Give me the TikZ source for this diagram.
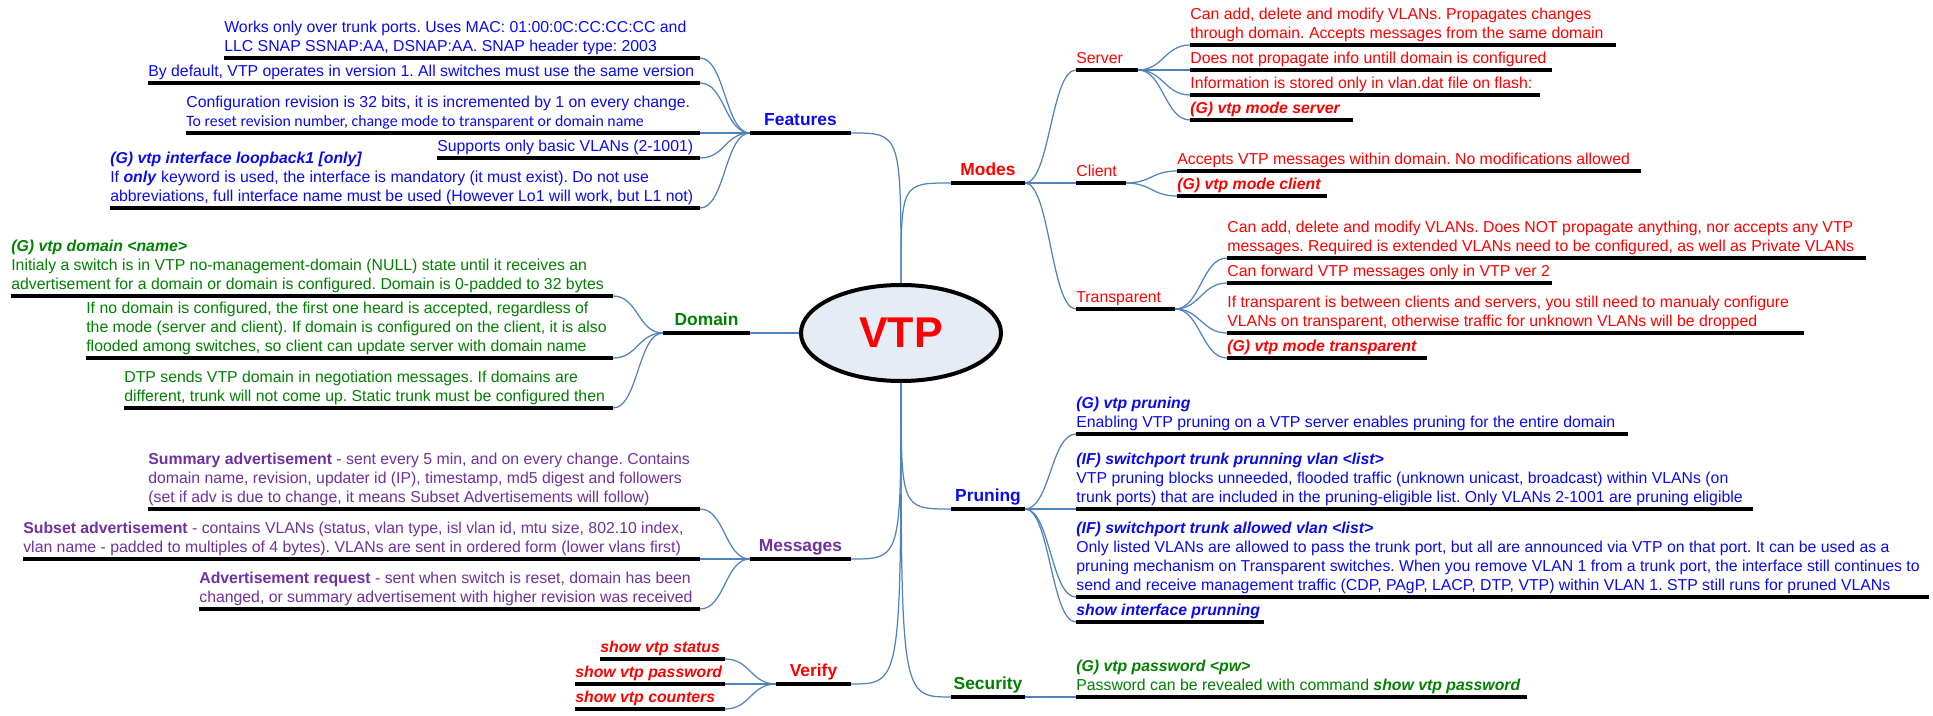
\documentclass[tikz,border=0pt]{standalone}
\usepackage{fontspec}
\setmainfont{Liberation Sans}
\newfontfamily\calfont{Carlito}
\usetikzlibrary{shapes.geometric}
\definecolor{vtpred}{RGB}{255,0,0}
\definecolor{vtpblue}{RGB}{10,10,240}
\definecolor{vtpgreen}{RGB}{0,128,0}
\definecolor{vtppurple}{RGB}{112,48,160}
\definecolor{linkblue}{RGB}{79,129,189}
\definecolor{ovalfill}{RGB}{230,236,246}
\newcommand{\leaffont}{\fontsize{9}{10.8}\selectfont\frenchspacing}
\newcommand{\topicfont}{\fontsize{9.9}{12}\selectfont\bfseries}
\newcommand{\vtpcmd}[1]{\textbf{\textit{#1}}}
\newcommand{\dstrut}{\vrule width 0pt height 0pt depth 0.7mm}

\begin{document}
\begin{tikzpicture}[x=0.2mm, y=0.2mm,
    bar/.style={fill=black, minimum width=#1, minimum height=0.75mm, inner sep=0pt, outer sep=0pt},
    lbl/.style={anchor=south west, align=left, inner xsep=0pt, inner ysep=0.22mm, font=\leaffont, execute at end node=\dstrut},
    tlbl/.style={anchor=south, inner xsep=0pt, inner ysep=1.12mm, text depth=0pt, font=\topicfont},
    link/.style={draw=linkblue, line width=0.7pt},
    lfan/.style={out=180, in=0, distance=5mm},
    rfan/.style={out=0, in=180, distance=5mm}]
    \useasboundingbox (0,0) rectangle (1933,715);

    \node[ellipse, draw=black, line width=0.8mm, fill=ovalfill, minimum width=40mm, minimum height=19.2mm, inner sep=0pt,
        text=vtpred, font=\fontsize{24.5}{29}\selectfont\bfseries] (vtp) at (901,382) {VTP};

    \node[bar=20.2mm, anchor=west, label={[tlbl, text=vtpblue]north:Features}] (features) at (750,582) {};
    \node[bar=14.8mm, anchor=west, label={[tlbl, text=vtpred]north:Modes}] (modes) at (951,532) {};
    \node[bar=17.4mm, anchor=west, label={[tlbl, text=vtpgreen]north:Domain}] (domain) at (663,382) {};
    \node[bar=20.2mm, anchor=west, label={[tlbl, text=vtppurple]north:Messages}] (messages) at (750,156) {};
    \node[bar=15mm, anchor=west, label={[tlbl, text=vtpred]north:Verify}] (verify) at (776,31) {};
    \node[bar=14.8mm, anchor=west, label={[tlbl, text=vtpblue]north:Pruning}] (pruning) at (951,206) {};
    \node[bar=14.8mm, anchor=west, label={[tlbl, text=vtpgreen]north:Security}] (security) at (951,18) {};

    \node[bar=95.2mm, anchor=east, label={[lbl, text=vtpblue]north west:{Works only over trunk ports. Uses MAC: 01:00:0C:CC:CC:CC and\\LLC SNAP SSNAP:AA, DSNAP:AA. SNAP header type: 2003}}] (f1) at (700,657) {};
    \node[bar=110.4mm, anchor=east, label={[lbl, text=vtpblue]north west:{By default, VTP operates in version 1. All switches must use the same version}}] (f2) at (700,632) {};
    \node[bar=102.8mm, anchor=east, label={[lbl, text=vtpblue]north west:{Configuration revision is 32 bits, it is incremented by 1 on every change.\\{\calfont To reset revision number, change mode to transparent or domain name}}}] (f3) at (700,582) {};
    \node[bar=52.6mm, anchor=east, label={[lbl, text=vtpblue]north west:{Supports only basic VLANs (2-1001)}}] (f4) at (700,557) {};
    \node[bar=118mm, anchor=east, label={[lbl, text=vtpblue]north west:{\vtpcmd{(G) vtp interface loopback1 [only]}\\If \vtpcmd{only} keyword is used, the interface is mandatory (it must exist). Do not use\\abbreviations, full interface name must be used (However Lo1 will work, but L1 not)}}] (f5) at (700,507) {};

    \node[bar=120.4mm, anchor=east, label={[lbl, text=vtpgreen]north west:{\vtpcmd{(G) vtp domain <name>}\\Initialy a switch is in VTP no-management-domain (NULL) state until it receives an\\advertisement for a domain or domain is configured. Domain is 0-padded to 32 bytes}}] (d1) at (613,419) {};
    \node[bar=105.4mm, anchor=east, label={[lbl, text=vtpgreen]north west:{If no domain is configured, the first one heard is accepted, regardless of\\the mode (server and client). If domain is configured on the client, it is also\\flooded among switches, so client can update server with domain name}}] (d2) at (613,357) {};
    \node[bar=97.8mm, anchor=east, label={[lbl, text=vtpgreen]north west:{DTP sends VTP domain in negotiation messages. If domains are\\different, trunk will not come up. Static trunk must be configured then}}] (d3) at (613,307) {};

    \node[bar=110.4mm, anchor=east, label={[lbl, text=vtppurple]north west:{\textbf{Summary advertisement} - sent every 5 min, and on every change. Contains\\domain name, revision, updater id (IP), timestamp, md5 digest and followers\\(set if adv is due to change, it means Subset Advertisements will follow)}}] (m1) at (700,206) {};
    \node[bar=135.4mm, anchor=east, label={[lbl, text=vtppurple]north west:{\textbf{Subset advertisement} - contains VLANs (status, vlan type, isl vlan id, mtu size, 802.10 index,\\vlan name - padded to multiples of 4 bytes). VLANs are sent in ordered form (lower vlans first)}}] (m2) at (700,156) {};
    \node[bar=100.2mm, anchor=east, label={[lbl, text=vtppurple]north west:{\textbf{Advertisement request} - sent when switch is reset, domain has been\\changed, or summary advertisement with higher revision was received}}] (m3) at (700,106) {};

    \node[bar=25mm, anchor=east, label={[lbl, text=vtpred]north west:{\vtpcmd{show vtp status}}}] (v1) at (725,56) {};
    \node[bar=30mm, anchor=east, label={[lbl, text=vtpred]north west:{\vtpcmd{show vtp password}}}] (v2) at (725,31) {};
    \node[bar=30mm, anchor=east, label={[lbl, text=vtpred]north west:{\vtpcmd{show vtp counters}}}] (v3) at (725,6) {};

    \node[bar=12.4mm, anchor=west, label={[lbl, text=vtpred]north west:Server}] (server) at (1076,645) {};
    \node[bar=10mm, anchor=west, label={[lbl, text=vtpred]north west:Client}] (client) at (1076,532) {};
    \node[bar=19.8mm, anchor=west, label={[lbl, text=vtpred]north west:Transparent}] (transparent) at (1076,406) {};

    \node[bar=85.2mm, anchor=west, label={[lbl, text=vtpred]north west:{Can add, delete and modify VLANs. Propagates changes\\through domain. Accepts messages from the same domain}}] (s1) at (1190,670) {};
    \node[bar=72.4mm, anchor=west, label={[lbl, text=vtpred]north west:{Does not propagate info untill domain is configured}}] (s2) at (1190,645) {};
    \node[bar=70mm, anchor=west, label={[lbl, text=vtpred]north west:{Information is stored only in vlan.dat file on flash:}}] (s3) at (1190,620) {};
    \node[bar=32.6mm, anchor=west, label={[lbl, text=vtpred]north west:{\vtpcmd{(G) vtp mode server}}}] (s4) at (1190,595) {};
    \node[bar=92.8mm, anchor=west, label={[lbl, text=vtpred]north west:{Accepts VTP messages within domain. No modifications allowed}}] (c1) at (1177,544) {};
    \node[bar=30mm, anchor=west, label={[lbl, text=vtpred]north west:{\vtpcmd{(G) vtp mode client}}}] (c2) at (1177,519) {};
    \node[bar=127.8mm, anchor=west, label={[lbl, text=vtpred]north west:{Can add, delete and modify VLANs. Does NOT propagate anything, nor accepts any VTP\\messages. Required is extended VLANs need to be configured, as well as Private VLANs}}] (t1) at (1227,457) {};
    \node[bar=65mm, anchor=west, label={[lbl, text=vtpred]north west:{Can forward VTP messages only in VTP ver 2}}] (t2) at (1227,432) {};
    \node[bar=115.4mm, anchor=west, label={[lbl, text=vtpred]north west:{If transparent is between clients and servers, you still need to manualy configure\\VLANs on transparent, otherwise traffic for unknown VLANs will be dropped}}] (t3) at (1227,382) {};
    \node[bar=40mm, anchor=west, label={[lbl, text=vtpred]north west:{\vtpcmd{(G) vtp mode transparent}}}] (t4) at (1227,357) {};

    \node[bar=110.4mm, anchor=west, label={[lbl, text=vtpblue]north west:{\vtpcmd{(G) vtp pruning}\\Enabling VTP pruning on a VTP server enables pruning for the entire domain}}] (p1) at (1076,281) {};
    \node[bar=135.4mm, anchor=west, label={[lbl, text=vtpblue]north west:{\vtpcmd{(IF) switchport trunk prunning vlan <list>}\\VTP pruning blocks unneeded, flooded traffic (unknown unicast, broadcast) within VLANs (on\\trunk ports) that are included in the pruning-eligible list. Only VLANs 2-1001 are pruning eligible}}] (p2) at (1076,206) {};
    \node[bar=170.6mm, anchor=west, label={[lbl, text=vtpblue]north west:{\vtpcmd{(IF) switchport trunk allowed vlan <list>}\\Only listed VLANs are allowed to pass the trunk port, but all are announced via VTP on that port. It can be used as a\\pruning mechanism on Transparent switches. When you remove VLAN 1 from a trunk port, the interface still continues to\\send and receive management traffic (CDP, PAgP, LACP, DTP, VTP) within VLAN 1. STP still runs for pruned VLANs}}] (p3) at (1076,118) {};
    \node[bar=37.6mm, anchor=west, label={[lbl, text=vtpblue]north west:{\vtpcmd{show interface prunning}}}] (p4) at (1076,93) {};
    \node[bar=90.2mm, anchor=west, label={[lbl, text=vtpgreen]north west:{\vtpcmd{(G) vtp password <pw>}\\Password can be revealed with command \vtpcmd{show vtp password}}}] (sec1) at (1076,18) {};

    \draw[link] (vtp.north) .. controls (vtp.north |- features.east) .. (features.east);
    \draw[link] (vtp.north) .. controls (vtp.north |- modes.west) .. (modes.west);
    \draw[link] (vtp.west) -- (domain.east);
    \draw[link] (vtp.south) .. controls (vtp.south |- messages.east) .. (messages.east);
    \draw[link] (vtp.south) .. controls (vtp.south |- verify.east) .. (verify.east);
    \draw[link] (vtp.south) .. controls (vtp.south |- pruning.west) .. (pruning.west);
    \draw[link] (vtp.south) .. controls (vtp.south |- security.west) .. (security.west);

    \draw[link] (features.west) to[lfan] (f1.east);
    \draw[link] (features.west) to[lfan] (f2.east);
    \draw[link] (features.west) to[lfan] (f3.east);
    \draw[link] (features.west) to[lfan] (f4.east);
    \draw[link] (features.west) to[lfan] (f5.east);
    \draw[link] (domain.west) to[lfan] (d1.east);
    \draw[link] (domain.west) to[lfan] (d2.east);
    \draw[link] (domain.west) to[lfan] (d3.east);
    \draw[link] (messages.west) to[lfan] (m1.east);
    \draw[link] (messages.west) to[lfan] (m2.east);
    \draw[link] (messages.west) to[lfan] (m3.east);
    \draw[link] (verify.west) to[lfan] (v1.east);
    \draw[link] (verify.west) to[lfan] (v2.east);
    \draw[link] (verify.west) to[lfan] (v3.east);

    \draw[link] (modes.east) to[rfan] (server.west);
    \draw[link] (modes.east) to[rfan] (client.west);
    \draw[link] (modes.east) to[rfan] (transparent.west);
    \draw[link] (server.east) to[rfan] (s1.west);
    \draw[link] (server.east) to[rfan] (s2.west);
    \draw[link] (server.east) to[rfan] (s3.west);
    \draw[link] (server.east) to[rfan] (s4.west);
    \draw[link] (client.east) to[rfan] (c1.west);
    \draw[link] (client.east) to[rfan] (c2.west);
    \draw[link] (transparent.east) to[rfan] (t1.west);
    \draw[link] (transparent.east) to[rfan] (t2.west);
    \draw[link] (transparent.east) to[rfan] (t3.west);
    \draw[link] (transparent.east) to[rfan] (t4.west);
    \draw[link] (pruning.east) to[rfan] (p1.west);
    \draw[link] (pruning.east) to[rfan] (p2.west);
    \draw[link] (pruning.east) to[rfan] (p3.west);
    \draw[link] (pruning.east) to[rfan] (p4.west);
    \draw[link] (security.east) to[rfan] (sec1.west);
\end{tikzpicture}
\end{document}
